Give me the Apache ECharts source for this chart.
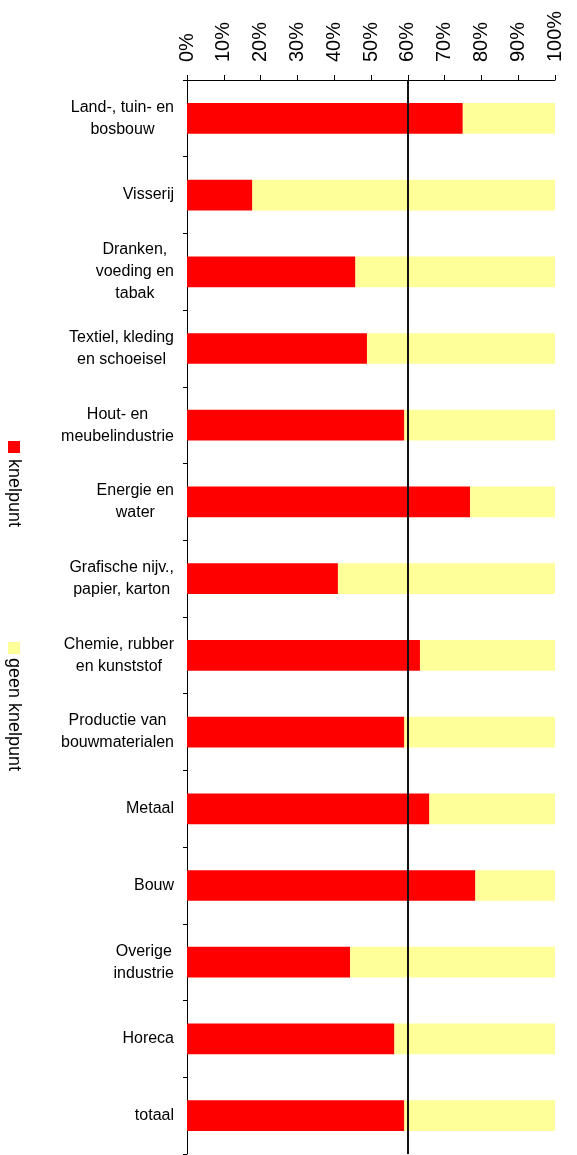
<!DOCTYPE html>
<html>
<head>
<meta charset="utf-8">
<script src="https://cdn.jsdelivr.net/npm/echarts@6/dist/echarts.min.js"></script>
<style>
html,body{margin:0;padding:0;background:#fff;}
#chart{width:577px;height:1155px;}
</style>
</head>
<body>
<div id="chart"></div>
<script>
const categories = [
  'Land-, tuin- en\nbosbouw',
  'Visserij',
  'Dranken,\nvoeding en\ntabak',
  'Textiel, kleding\nen schoeisel',
  'Hout- en\nmeubelindustrie',
  'Energie en\nwater',
  'Grafische nijv.,\npapier, karton',
  'Chemie, rubber\nen kunststof',
  'Productie van\nbouwmaterialen',
  'Metaal',
  'Bouw',
  'Overige\nindustrie',
  'Horeca',
  'totaal'
];
const knelpunt =      [74.9, 17.7, 45.7, 48.9, 59.0, 76.9, 41.0, 63.3, 59.0, 65.8, 78.3, 44.3, 56.3, 59.0];
const geenKnelpunt =  [25.1, 82.3, 54.3, 51.1, 41.0, 23.1, 59.0, 36.7, 41.0, 34.2, 21.7, 55.7, 43.7, 41.0];
const seriesNames = ['knelpunt', 'geen knelpunt'];
const colors = ['#FF0000', '#FFFF99'];
const referenceLine = 60;

const FONT = '"Liberation Sans", Arial, sans-serif';
const chart = echarts.init(document.getElementById('chart'));

chart.setOption({
  animation: false,
  textStyle: { fontFamily: FONT },
  grid: { left: 187, right: 22, top: 80, bottom: 1, containLabel: false },
  xAxis: {
    type: 'value',
    position: 'top',
    min: 0, max: 100, interval: 10,
    axisLine: { show: true, lineStyle: { color: '#000', width: 1 } },
    axisTick: { show: true, inside: false, length: 5, lineStyle: { color: '#000' } },
    splitLine: { show: false },
    axisLabel: {
      rotate: -90, margin: 18, fontSize: 20, color: '#000', fontFamily: FONT,
      formatter: v => v + '%'
    }
  },
  yAxis: {
    type: 'category',
    inverse: true,
    data: categories,
    axisLine: { show: true, lineStyle: { color: '#000', width: 1 } },
    axisTick: { show: true, inside: false, length: 4, lineStyle: { color: '#000' } },
    axisLabel: {
      margin: 13, fontSize: 16, lineHeight: 22, color: '#000', fontFamily: FONT,
      interval: 0,
      formatter: v => v.split('\n').map(l => '{c|' + l + '}').join('\n'),
      rich: { c: { align: 'center', fontSize: 16, lineHeight: 22, color: '#000', fontFamily: FONT } }
    }
  },
  series: [
    {
      name: seriesNames[0], type: 'bar', stack: 'total', barWidth: '40%',
      itemStyle: { color: colors[0] }, data: knelpunt,
      markLine: {
        silent: true, symbol: 'none', label: { show: false },
        lineStyle: { color: '#111', width: 2, type: 'solid' },
        data: [{ xAxis: referenceLine }]
      },
      z: 2
    },
    {
      name: seriesNames[1], type: 'bar', stack: 'total', barWidth: '40%',
      itemStyle: { color: colors[1] }, data: geenKnelpunt, z: 1
    }
  ],
  graphic: [
    { type: 'rect', shape: { x: 8, y: 441, width: 12, height: 12 }, style: { fill: colors[0] } },
    { type: 'text', x: 14, y: 459, rotation: -Math.PI / 2,
      style: { text: seriesNames[0], fontSize: 18, fontFamily: FONT, fill: '#000', align: 'left', verticalAlign: 'middle' } },
    { type: 'rect', shape: { x: 8, y: 642, width: 12, height: 12 }, style: { fill: colors[1] } },
    { type: 'text', x: 14, y: 658, rotation: -Math.PI / 2,
      style: { text: seriesNames[1], fontSize: 18, fontFamily: FONT, fill: '#000', align: 'left', verticalAlign: 'middle' } }
  ]
});
</script>
</body>
</html>
